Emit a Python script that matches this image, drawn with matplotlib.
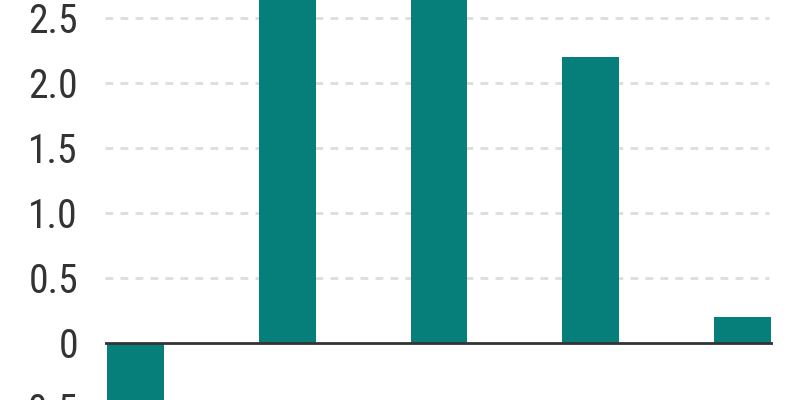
import matplotlib
matplotlib.use("Agg")
import matplotlib.pyplot as plt
import numpy as np

categories = ["A", "B", "C", "D", "E"]
values = [-0.6, 2.9, 2.9, 2.2, 0.2]
yticks = [-0.5, 0, 0.5, 1.0, 1.5, 2.0, 2.5]
ytick_labels = ["-0.5", "0", "0.5", "1.0", "1.5", "2.0", "2.5"]

bar_color = "#067F7B"
text_color = "#333333"

fig = plt.figure(figsize=(8, 4), dpi=100)
ymin, ymax = -1.0, 3.5
px_per_unit = 130 / 400.0
zero_frac = (400 - 342.5) / 400.0
bottom = zero_frac - (0 - ymin) * px_per_unit
height = (ymax - ymin) * px_per_unit
ax = fig.add_axes([105 / 800, bottom, 668 / 800, height])

x = np.arange(len(categories))
ax.bar(x, values, width=0.375, color=bar_color, zorder=3)
ax.set_xlim(-0.2, 4.2)
ax.set_ylim(ymin, ymax)

for t in yticks:
    if t != 0:
        ax.axhline(t, color="#dddddd", lw=2, dashes=(2.8, 2.6), zorder=1, xmax=0.994)
ax.axhline(0, color=text_color, lw=2, zorder=4)

ax.set_yticks(yticks)
ax.set_yticklabels(ytick_labels, family=["Roboto Condensed", "DejaVu Sans"],
                   fontsize=28.5, color=text_color)
ax.tick_params(axis="y", length=0, pad=19.4)
ax.set_xticks([])
for s in ax.spines.values():
    s.set_visible(False)

fig.savefig("out.png", dpi=100)
